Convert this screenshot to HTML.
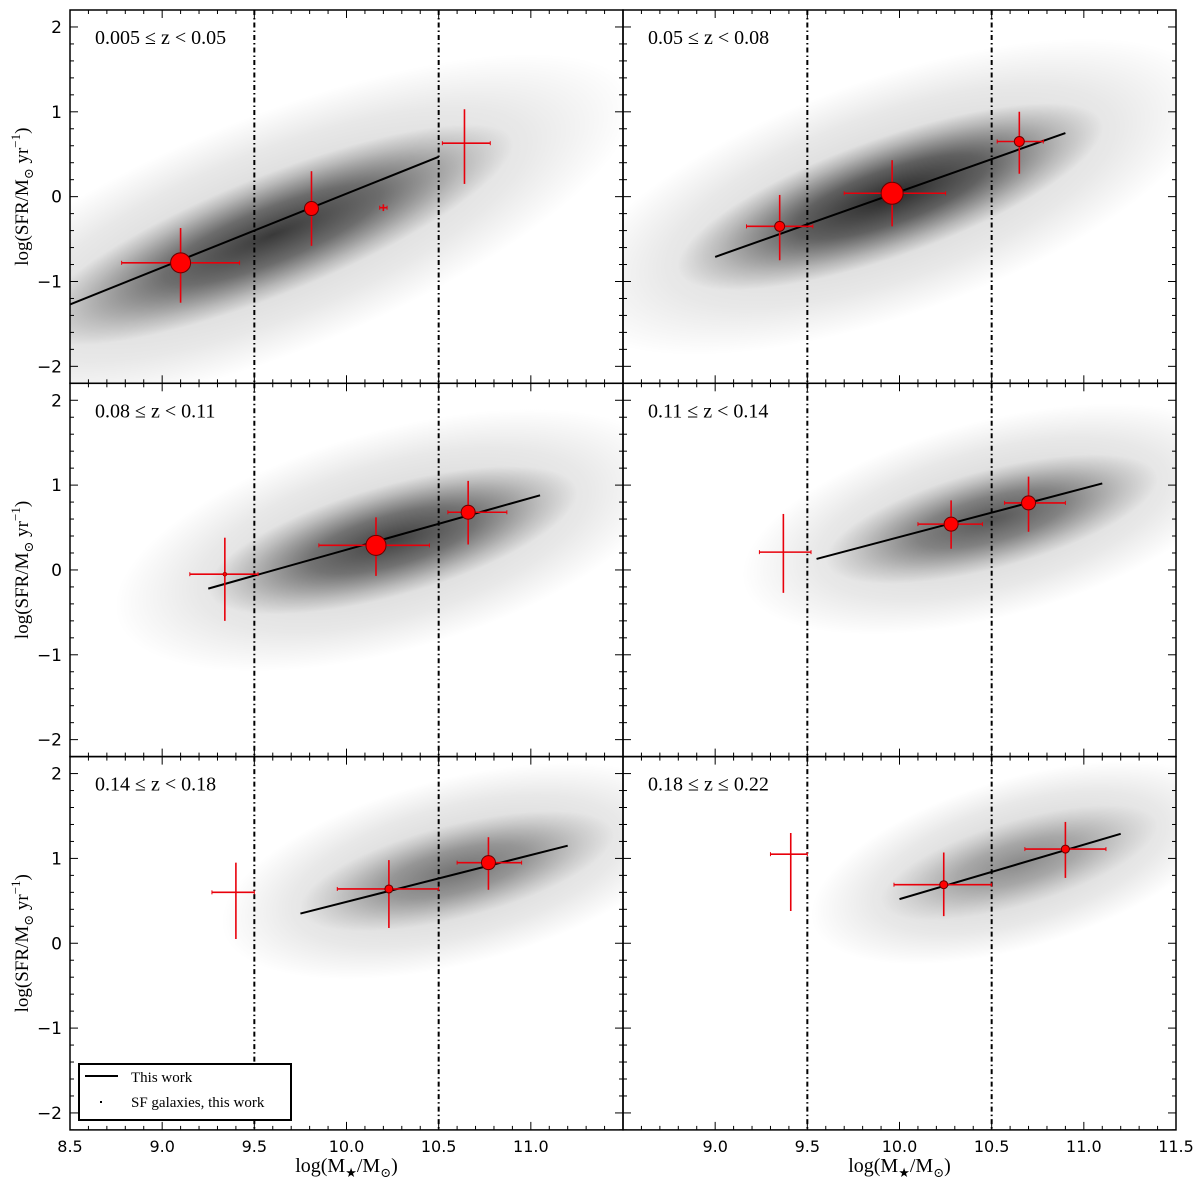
<!DOCTYPE html>
<html><head><meta charset="utf-8"><style>
body{margin:0;background:#fff}
svg text{font-family:"DejaVu Sans","Liberation Sans",sans-serif}
.serif{font-family:"Liberation Serif","DejaVu Serif",serif}
</style></head><body>
<svg id="chart" width="1200" height="1189" viewBox="0 0 1200 1189" xmlns="http://www.w3.org/2000/svg">
<defs>
<radialGradient id="cloudGrad"><stop offset="0" stop-color="#000" stop-opacity="0.8"/><stop offset="0.45" stop-color="#000" stop-opacity="0.55"/><stop offset="0.8" stop-color="#000" stop-opacity="0.18"/><stop offset="1" stop-color="#000" stop-opacity="0"/></radialGradient>
<radialGradient id="haloGrad"><stop offset="0" stop-color="#000" stop-opacity="0.2"/><stop offset="0.7" stop-color="#000" stop-opacity="0.09"/><stop offset="1" stop-color="#000" stop-opacity="0"/></radialGradient>
</defs>
</svg>
<script>
const NS="http://www.w3.org/2000/svg";
const svg=document.getElementById('chart');
const panelTitles=["0.005 \u2264 z < 0.05","0.05 \u2264 z < 0.08","0.08 \u2264 z < 0.11","0.11 \u2264 z < 0.14","0.14 \u2264 z < 0.18","0.18 \u2264 z \u2264 0.22"];
// fit lines [x0,y0,x1,y1]
const fitLines=[[8.5,-1.27,10.5,0.47],[9.0,-0.71,10.9,0.75],[9.25,-0.22,11.05,0.88],[9.55,0.13,11.1,1.02],[9.75,0.35,11.2,1.15],[10.0,0.52,11.2,1.29]];
// cloud: [centerX, centerY, halfLengthX, ySigma, darkness]
const clouds=[[9.6,-0.45,1.3,0.7,0.9],[9.95,0.0,1.15,0.7,1.0],[10.25,0.35,1.0,0.65,0.85],[10.5,0.6,0.9,0.58,0.72],[10.6,0.85,0.85,0.55,0.55],[10.65,0.95,0.75,0.5,0.4]];
// points: [x, y, xlo, xhi, ylo, yhi, markerSize]
const points=[
 [[9.1,-0.78,8.78,9.42,-1.25,-0.37,10],[9.81,-0.14,9.79,9.83,-0.58,0.3,7],[10.64,0.63,10.52,10.78,0.15,1.03,0],[10.2,-0.13,10.18,10.22,-0.17,-0.09,0]],
 [[9.35,-0.35,9.17,9.53,-0.75,0.02,5],[9.96,0.04,9.7,10.25,-0.35,0.43,11],[10.65,0.65,10.53,10.78,0.27,1.0,5]],
 [[9.34,-0.05,9.15,9.52,-0.6,0.38,2],[10.16,0.29,9.85,10.45,-0.07,0.62,10],[10.66,0.68,10.55,10.87,0.3,1.05,7]],
 [[9.37,0.21,9.24,9.52,-0.27,0.66,0],[10.28,0.54,10.1,10.45,0.25,0.82,7],[10.7,0.79,10.57,10.9,0.45,1.1,7]],
 [[9.4,0.6,9.27,9.5,0.05,0.95,0],[10.23,0.64,9.95,10.5,0.18,0.98,4],[10.77,0.95,10.6,10.95,0.63,1.25,7]],
 [[9.41,1.05,9.3,9.5,0.38,1.3,0],[10.24,0.69,9.97,10.5,0.32,1.07,4],[10.9,1.11,10.68,11.12,0.77,1.43,4]]
];
const xTicks=[8.5,9.0,9.5,10.0,10.5,11.0,11.5];
const yTicks=[2,1,0,-1,-2];
const vLines=[9.5,10.5];
const W=553,H=373.3,LEFT0=70,TOP0=10;
function mk(tag,attrs,parent){const e=document.createElementNS(NS,tag);for(const k in attrs)e.setAttribute(k,attrs[k]);(parent||svg).appendChild(e);return e;}
for(let p=0;p<6;p++){
 const col=p%2,row=Math.floor(p/2);
 const L=LEFT0+col*W,T=TOP0+row*H;
 const sx=x=>L+(x-8.5)*W/3, sy=y=>T+(2.2-y)*H/4.4;
 const g=mk('g',{});
 
 
 const clip=mk('clipPath',{id:'clip'+p},g);mk('rect',{x:L,y:T,width:W,height:H},clip);
 const cg=mk('g',{'clip-path':'url(#clip'+p+')'},g);
 const c=clouds[p],fl=fitLines[p];
 const slope=(sy(fl[3])-sy(fl[1]))/(sx(fl[2])-sx(fl[0]));
 const ang=Math.atan(slope)*180/Math.PI;
 const cx=sx(c[0]),cy=sy(c[1]);
 const rx=c[2]*W/3/Math.cos(Math.atan(slope)),ry=c[3]*H/4.4;
 const halo=mk('ellipse',{cx:cx,cy:cy,rx:rx*1.5,ry:ry*2.0,fill:'url(#haloGrad)',transform:`rotate(${ang} ${cx} ${cy})`},cg);
 
 
 const cl=mk('ellipse',{cx:cx,cy:cy,rx:rx,ry:ry,fill:'url(#cloudGrad)',opacity:c[4],transform:`rotate(${ang} ${cx} ${cy})`},cg);
 
 
 vLines.forEach(v=>{const l=mk('line',{x1:sx(v),x2:sx(v),y1:T,y2:T+H,stroke:'#000','stroke-width':2,'stroke-dasharray':'5 3 1.5 3'},cg);
  
  });
 const ln=mk('line',{x1:sx(fl[0]),y1:sy(fl[1]),x2:sx(fl[2]),y2:sy(fl[3]),stroke:'#000','stroke-width':2},cg);
 
 
 points[p].forEach(d=>{
  const pg=mk('g',{},cg);
  
  
  mk('line',{x1:sx(d[2]),x2:sx(d[3]),y1:sy(d[1]),y2:sy(d[1]),stroke:'#e8000b','stroke-width':1.6},pg);
  mk('line',{x1:sx(d[0]),x2:sx(d[0]),y1:sy(d[4]),y2:sy(d[5]),stroke:'#e8000b','stroke-width':1.6},pg);
  [d[2],d[3]].forEach(x=>mk('line',{x1:sx(x),x2:sx(x),y1:sy(d[1])-2,y2:sy(d[1])+2,stroke:'#e8000b','stroke-width':1},pg));
  if(d[6]>0)mk('circle',{cx:sx(d[0]),cy:sy(d[1]),r:d[6],fill:'#ff0000',stroke:'#600','stroke-width':d[6]>3?1:0.5},pg);
 });
 const fr=mk('rect',{x:L,y:T,width:W,height:H,fill:'none',stroke:'#000','stroke-width':1.5},g);
 
 
 for(let i=0;i<=30;i++){const x=L+i*W/30,len=(i%5==0)?8:4;
  mk('line',{x1:x,x2:x,y1:T+H,y2:T+H-len,stroke:'#000','stroke-width':1},g);
  mk('line',{x1:x,x2:x,y1:T,y2:T+len,stroke:'#000','stroke-width':1},g);}
 for(let i=0;i<=22;i++){const y=T+i*H/22,len=((i-1)%5==0)?8:4;
  mk('line',{x1:L,x2:L+len,y1:y,y2:y,stroke:'#000','stroke-width':1},g);
  mk('line',{x1:L+W,x2:L+W-len,y1:y,y2:y,stroke:'#000','stroke-width':1},g);}
 const t=mk('text',{x:L+25,y:T+34,'font-size':20,class:'serif'},g);t.textContent=panelTitles[p];
 
 
 if(col==0){
  yTicks.forEach(v=>{const tt=mk('text',{x:L-8,y:sy(v)+6,'font-size':17,'text-anchor':'end'},g);tt.textContent=v<0?'\u2212'+(-v):String(v);
   
   });
  const yt=mk('text',{x:0,y:0,'font-size':19,class:'serif','text-anchor':'middle',transform:`translate(28 ${T+H/2}) rotate(-90)`},g);
  yt.innerHTML='log(SFR/M<tspan font-size="13" dy="5">\u2299</tspan><tspan dy="-5"> yr</tspan><tspan font-size="13" dy="-8">\u22121</tspan><tspan dy="8">)</tspan>';
  
  
 }
 if(row==2){
  xTicks.forEach((v,i)=>{if(col==1&&i==0)return;if(col==0&&i==6)return;
   const tt=mk('text',{x:sx(v),y:T+H+22,'font-size':16,'text-anchor':'middle'},g);tt.textContent=v.toFixed(1);
   
   });
  const xt=mk('text',{x:L+W/2,y:1172,'font-size':20,class:'serif','text-anchor':'middle'},g);
  xt.innerHTML='log(M<tspan font-size="13" dy="5">\u2605</tspan><tspan dy="-5">/M</tspan><tspan font-size="13" dy="5">\u2299</tspan><tspan dy="-5">)</tspan>';
  
  
 }
}
const lg=mk('g',{});


mk('rect',{x:79,y:1064,width:212,height:56,fill:'#fff',stroke:'#000','stroke-width':2},lg);
mk('line',{x1:85,x2:118,y1:1076,y2:1076,stroke:'#000','stroke-width':2},lg);
const l1=mk('text',{x:131,y:1082,'font-size':15,class:'serif'},lg);l1.textContent='This work';


mk('rect',{x:100,y:1101,width:2,height:2,fill:'#000'},lg);
const l2=mk('text',{x:131,y:1107,'font-size':15,class:'serif'},lg);l2.textContent='SF galaxies, this work';


</script>
</body></html>
